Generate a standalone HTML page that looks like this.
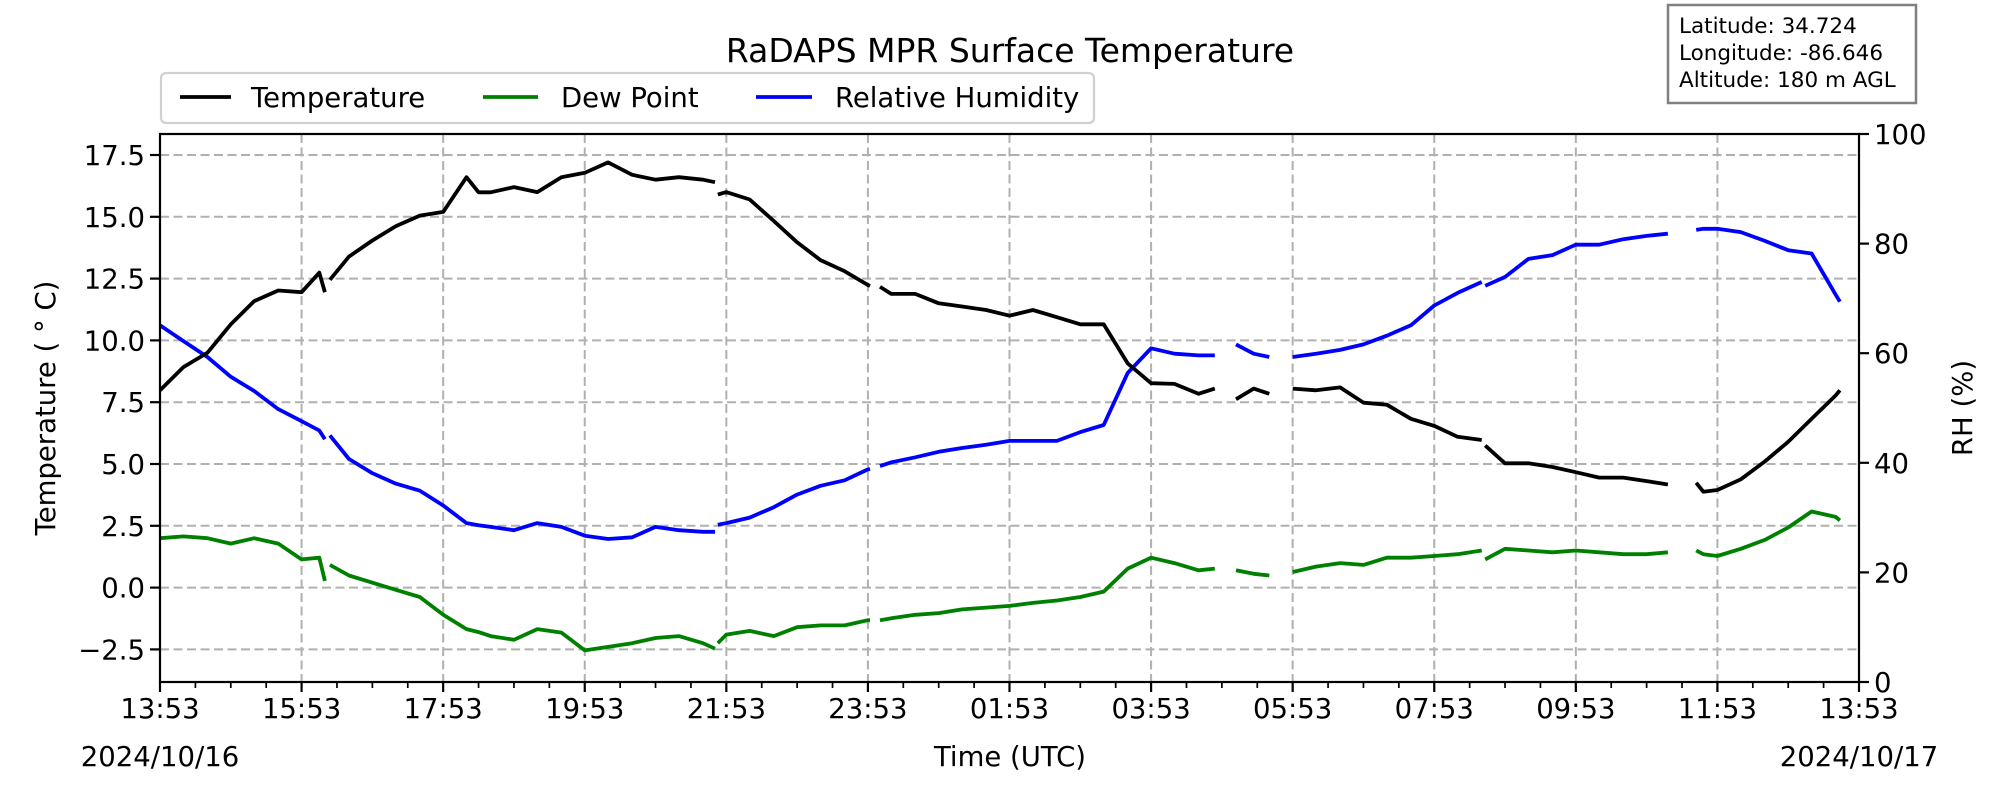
<!DOCTYPE html>
<html><head><meta charset="utf-8">
<style>
html,body{margin:0;padding:0;background:#fff;}
svg{display:block;font-family:"DejaVu Sans","Liberation Sans",sans-serif;}
</style></head>
<body>
<svg id="chart" width="2000" height="800" viewBox="0 0 2000 800" xmlns="http://www.w3.org/2000/svg">
  <rect x="0" y="0" width="2000" height="800" fill="#fff"/>
  <g id="grid"></g>
  <g id="series"></g>
  <rect x="160" y="134" width="1699" height="548" fill="none" stroke="#000" stroke-width="2.2"/>
  <g id="axes"></g>
  <text x="1010" y="62" text-anchor="middle" font-size="33">RaDAPS MPR Surface Temperature</text>
  <g>
    <rect x="161" y="73" width="933" height="50" rx="5" fill="#fff" stroke="#d0d0d0" stroke-width="2.2"/>
    <g>
      <line x1="180" y1="97" x2="231" y2="97" stroke="#000" stroke-width="3.8"/>
      <text x="251" y="107" font-size="27.5">Temperature</text>
    </g>
    <g>
      <line x1="483" y1="97" x2="538" y2="97" stroke="#008000" stroke-width="3.8"/>
      <text x="561" y="107" font-size="27.5">Dew Point</text>
    </g>
    <g>
      <line x1="756" y1="97" x2="812" y2="97" stroke="#0000ff" stroke-width="3.8"/>
      <text x="835" y="107" font-size="27.5">Relative Humidity</text>
    </g>
  </g>
  <g>
    <rect x="1668" y="5" width="248" height="98" fill="#fff" stroke="#808080" stroke-width="2.5"/>
    <text x="1679" y="33" font-size="21.5">Latitude: 34.724</text>
    <text x="1679" y="60" font-size="21.5">Longitude: -86.646</text>
    <text x="1679" y="87" font-size="21.5">Altitude: 180 m AGL</text>
  </g>
  <text x="1010" y="766" text-anchor="middle" font-size="27.5">Time (UTC)</text>
  <text x="160" y="766" text-anchor="middle" font-size="27.5">2024/10/16</text>
  <text x="1859" y="766" text-anchor="middle" font-size="27.5">2024/10/17</text>
  <text transform="translate(55,408) rotate(-90)" text-anchor="middle" font-size="27.5">Temperature ( ° C)</text>
  <text transform="translate(1972,408) rotate(-90)" text-anchor="middle" font-size="27.5">RH (%)</text>
</svg>
<script>
// hours since 13:53 UTC 2024/10/16; null marks a data gap
const hours = [0,0.33,0.67,1.0,1.33,1.67,2.0,2.25,2.33,2.37,2.4,2.67,3.0,3.33,3.67,4.0,4.33,4.5,4.67,5.0,5.33,5.67,6.0,6.33,6.67,7.0,7.33,7.67,7.84,7.86,7.88,8.0,8.33,8.67,9.0,9.33,9.67,10.0,10.03,10.1,10.17,10.33,10.67,11.0,11.33,11.67,12.0,12.33,12.67,13.0,13.33,13.67,14.0,14.33,14.67,14.9,15.05,15.2,15.45,15.67,15.83,16.0,16.33,16.67,17.0,17.33,17.67,18.0,18.33,18.67,18.7,18.72,19.0,19.33,19.67,20.0,20.33,20.67,21.0,21.3,21.5,21.7,21.8,22.0,22.33,22.67,23.0,23.33,23.67,23.73];
const temperature = [7.98,8.92,9.5,10.65,11.59,12.02,11.95,12.74,11.95,null,12.45,13.39,14.04,14.62,15.05,15.2,16.6,15.99,15.99,16.2,16.0,16.6,16.78,17.2,16.7,16.5,16.6,16.5,16.4,null,15.9,16.0,15.7,14.83,13.97,13.25,12.8,12.24,12.2,null,12.17,11.88,11.88,11.5,11.37,11.23,11.0,11.23,10.94,10.65,10.65,9.07,8.27,8.24,7.84,8.05,null,7.62,8.05,7.84,null,8.05,7.98,8.1,7.48,7.4,6.83,6.54,6.1,5.97,null,5.75,5.03,5.03,4.88,4.67,4.45,4.45,4.31,4.17,null,4.24,3.88,3.95,4.38,5.1,5.9,6.83,7.77,7.98];
const dewPoint = [2.0,2.07,2.0,1.78,2.0,1.78,1.14,1.21,0.27,null,0.92,0.49,0.2,-0.09,-0.38,-1.1,-1.68,-1.8,-1.96,-2.11,-1.68,-1.82,-2.54,-2.4,-2.25,-2.04,-1.96,-2.25,-2.47,null,-2.25,-1.9,-1.75,-1.96,-1.6,-1.53,-1.53,-1.32,-1.32,null,-1.32,-1.24,-1.1,-1.03,-0.88,-0.81,-0.74,-0.62,-0.52,-0.38,-0.16,0.77,1.21,0.99,0.7,0.77,null,0.7,0.56,0.49,null,0.63,0.85,0.99,0.92,1.21,1.21,1.28,1.35,1.5,null,1.14,1.57,1.5,1.43,1.5,1.43,1.35,1.35,1.43,null,1.5,1.35,1.28,1.57,1.93,2.43,3.08,2.86,2.72];
const humidity = [65.1,62.2,59.3,55.7,53.1,49.8,47.6,45.9,44.3,null,45.0,40.7,38.1,36.2,34.9,32.2,29.0,28.6,28.3,27.7,29.0,28.3,26.7,26.1,26.4,28.3,27.7,27.4,27.4,null,28.7,29.0,30.0,31.9,34.2,35.8,36.8,38.8,38.9,null,39.4,40.1,41.0,42.0,42.7,43.3,44.0,44.0,44.0,45.6,46.9,56.4,60.9,59.9,59.6,59.6,null,61.6,59.9,59.3,null,59.3,59.9,60.6,61.6,63.2,65.1,68.7,71.0,73.0,null,72.3,73.9,77.2,77.9,79.8,79.8,80.8,81.4,81.8,null,82.5,82.7,82.7,82.1,80.5,78.8,78.2,70.7,69.4];
const xTickLabels = ["13:53","15:53","17:53","19:53","21:53","23:53","01:53","03:53","05:53","07:53","09:53","11:53","13:53"];
const tempTicks = [-2.5,0.0,2.5,5.0,7.5,10.0,12.5,15.0,17.5];
const rhTicks = [0,20,40,60,80,100];

const NS = "http://www.w3.org/2000/svg";
const X0 = 160, X1 = 1859, Y0 = 134, Y1 = 682;
function xScale(h){ return X0 + h / 24 * (X1 - X0); }
function tScale(t){ return 155 + (17.5 - t) * 24.72; }
function rhScale(r){ return Y1 - r / 100 * (Y1 - Y0); }
function mk(tag, attrs, parent){
  const el = document.createElementNS(NS, tag);
  for (const k in attrs) el.setAttribute(k, attrs[k]);
  parent.appendChild(el);
  return el;
}
const grid = document.getElementById('grid');
const axes = document.getElementById('axes');
const series = document.getElementById('series');

xTickLabels.forEach(function(lab, i){
  const x = xScale(i * 2);
  const g = mk('line', {x1:x, y1:Y0, x2:x, y2:Y1, stroke:'#b0b0b0', 'stroke-width':2, 'stroke-dasharray':'9,4.5'}, grid);
  
  
  const t = mk('line', {x1:x, y1:Y1, x2:x, y2:Y1+10, stroke:'#000', 'stroke-width':2.2}, axes);
  
  
  const tx = mk('text', {x:x, y:718, 'text-anchor':'middle', 'font-size':27.5}, axes);
  tx.textContent = lab;
  
  
});
for (let m = 0; m <= 48; m++){
  if (m % 4 === 0) continue;
  const x = xScale(m * 0.5);
  const t = mk('line', {x1:x, y1:Y1, x2:x, y2:Y1+6, stroke:'#000', 'stroke-width':1.7}, axes);
  
  
}
tempTicks.forEach(function(v){
  const y = tScale(v);
  const g = mk('line', {x1:X0, y1:y, x2:X1, y2:y, stroke:'#b0b0b0', 'stroke-width':2, 'stroke-dasharray':'9,4.5'}, grid);
  
  
  const t = mk('line', {x1:X0-10, y1:y, x2:X0, y2:y, stroke:'#000', 'stroke-width':2.2}, axes);
  
  
  const tx = mk('text', {x:X0-15, y:y+10, 'text-anchor':'end', 'font-size':27.5}, axes);
  tx.textContent = (v < 0 ? '\u2212' + Math.abs(v).toFixed(1) : v.toFixed(1));
  
  
});
rhTicks.forEach(function(v){
  const y = rhScale(v);
  const t = mk('line', {x1:X1, y1:y, x2:X1+10, y2:y, stroke:'#000', 'stroke-width':2.2}, axes);
  
  
  const tx = mk('text', {x:X1+15, y:y+10, 'text-anchor':'start', 'font-size':27.5}, axes);
  tx.textContent = String(v);
  
  
});

function buildPath(vals, yfn){
  let d = '', pen = false;
  for (let i = 0; i < hours.length; i++){
    const v = vals[i];
    if (v === null || v === undefined){ pen = false; continue; }
    d += (pen ? 'L' : 'M') + xScale(hours[i]).toFixed(1) + ',' + yfn(v).toFixed(1);
    pen = true;
  }
  return d;
}
const p1 = mk('path', {d:buildPath(humidity, rhScale), fill:'none', stroke:'#0000ff', 'stroke-width':3.8, 'stroke-linejoin':'round'}, series);


const p2 = mk('path', {d:buildPath(dewPoint, tScale), fill:'none', stroke:'#008000', 'stroke-width':3.8, 'stroke-linejoin':'round'}, series);


const p3 = mk('path', {d:buildPath(temperature, tScale), fill:'none', stroke:'#000000', 'stroke-width':3.8, 'stroke-linejoin':'round'}, series);


</script>
</body></html>
